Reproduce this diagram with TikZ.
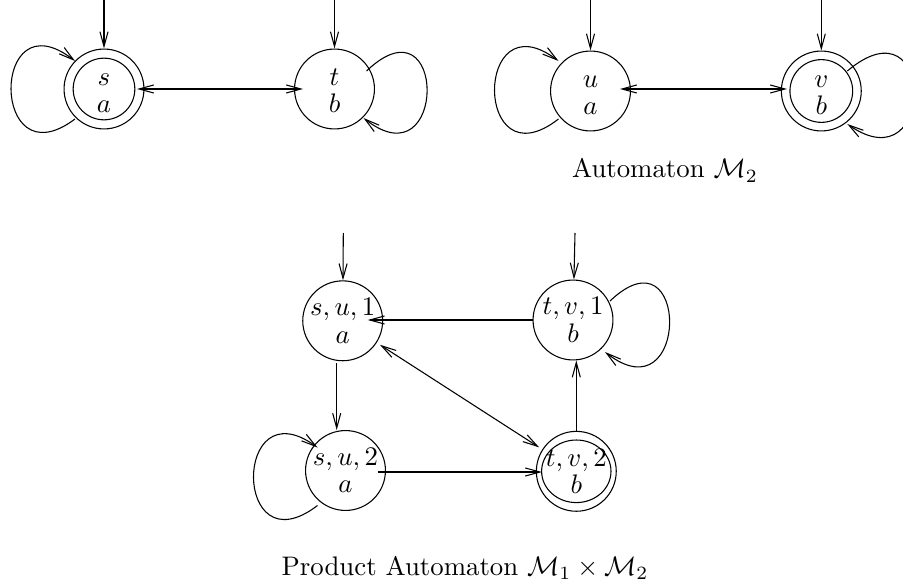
\documentclass[tikz,border=0pt]{standalone}
\usetikzlibrary{arrows.meta}
\begin{document}
\begin{tikzpicture}[x=0.373pt,y=-0.373pt,
  state/.style={draw,circle,minimum size=29.8pt,inner sep=0pt,align=center},
  arr/.style={-{Straight Barb[length=5.5pt,width=3pt]}},
  barr/.style={{Straight Barb[length=5.5pt,width=3pt]}-{Straight Barb[length=5.5pt,width=3pt]}},
  lbl/.style={anchor=base}]
\useasboundingbox (0,0) rectangle (903,580);

% ---- top left automaton
\node[state] (s) at (104,89) {\rule{0pt}{7.5pt}$s$\\[-1.7pt]$a$};
\node[state] (t) at (334.5,89) {\rule{0pt}{7.5pt}$t$\\[-1.7pt]$b$};
\draw (s) circle [radius=11.5pt];
\coordinate (s0) at (104,0);
\coordinate (t0) at (334.5,0);
\draw[arr] (s0) -- (s);
\draw[arr] (t0) -- (t);
\draw[barr] ([shift={(33,0)}]s.center) -- ([shift={(-31.5,0)}]t.center);
\draw[arr] ([shift={(-29,30)}]s.center) .. controls ([shift={(-114,94)}]s.center) and ([shift={(-114,-94)}]s.center) .. ([shift={(-29,-28)}]s.center);
\draw[arr] ([shift={(32,-18)}]t.center) .. controls ([shift={(113,-95)}]t.center) and ([shift={(113,95)}]t.center) .. ([shift={(29,29)}]t.center);

% ---- top right automaton
\node[state] (u) at (590.5,91) {\rule{0pt}{7.5pt}$u$\\[-1.7pt]$a$};
\node[state] (v) at (821.3,91) {\rule{0pt}{7.5pt}$v$\\[-1.7pt]$b$};
\draw (v) circle [radius=11.7pt];
\coordinate (u0) at (590.5,0);
\coordinate (v0) at (821.3,0);
\draw[arr] (u0) -- (u);
\draw[arr] (v0) -- (v);
\draw[barr] ([shift={(29.5,-2)}]u.center) -- ([shift={(-34.3,-2)}]v.center);
\draw[arr] ([shift={(-32,28)}]u.center) .. controls ([shift={(-117,94)}]u.center) and ([shift={(-117,-94)}]u.center) .. ([shift={(-32,-30)}]u.center);
\draw[arr] ([shift={(26,-20)}]v.center) .. controls ([shift={(115,-95)}]v.center) and ([shift={(115,95)}]v.center) .. ([shift={(26,33)}]v.center);
\node[lbl] (m2) at (665,178) {Automaton $\mathcal{M}_2$};

% ---- product automaton
\node[state] (su1) at (342.7,320.8) {$s,u,1$\\[-1.7pt]$a$};
\node[state] (tv1) at (573,320) {$t,v,1$\\[-1.7pt]$b$};
\node[state] (su2) at (345.5,470.5) {$s,u,2$\\[-1.7pt]$a$};
\node[state] (tv2) at (576.3,471.3) {$t,v,2$\\[-1.7pt]$b$};
\draw (tv2) ellipse [x radius=12.94pt, y radius=11.67pt];
\coordinate (su10) at (343.3,233);
\coordinate (tv10) at (575,233);
\draw[arr] (su10) -- (su1);
\draw[arr] (tv10) -- (tv1);
\draw[arr] (tv1.west) -- ([shift={(25,0)}]su1.center |- tv1.west);
\draw[arr] ([shift={(-6,2)}]su1.south) -- ([shift={(-6,0)}]su1.south |- su2.north);
\draw[barr,shorten <=1.4pt,shorten >=1.4pt] (su1) -- (tv2);
\draw[arr] ([shift={(32.5,1.5)}]su2.center) -- ([shift={(-34.3,0.7)}]tv2.center);
\draw[arr] (tv2.north) -- (tv2.north |- tv1.south);
\draw[arr] ([shift={(37,-19)}]tv1.center) .. controls ([shift={(117,-95)}]tv1.center) and ([shift={(117,98)}]tv1.center) .. ([shift={(32,32)}]tv1.center);
\draw[arr] ([shift={(-28,35)}]su2.center) .. controls ([shift={(-113,100)}]su2.center) and ([shift={(-113,-85)}]su2.center) .. ([shift={(-28,-23)}]su2.center);
\node[lbl] (prod) at (465,575) {Product Automaton $\mathcal{M}_1\times\mathcal{M}_2$};
\end{tikzpicture}
\end{document}
